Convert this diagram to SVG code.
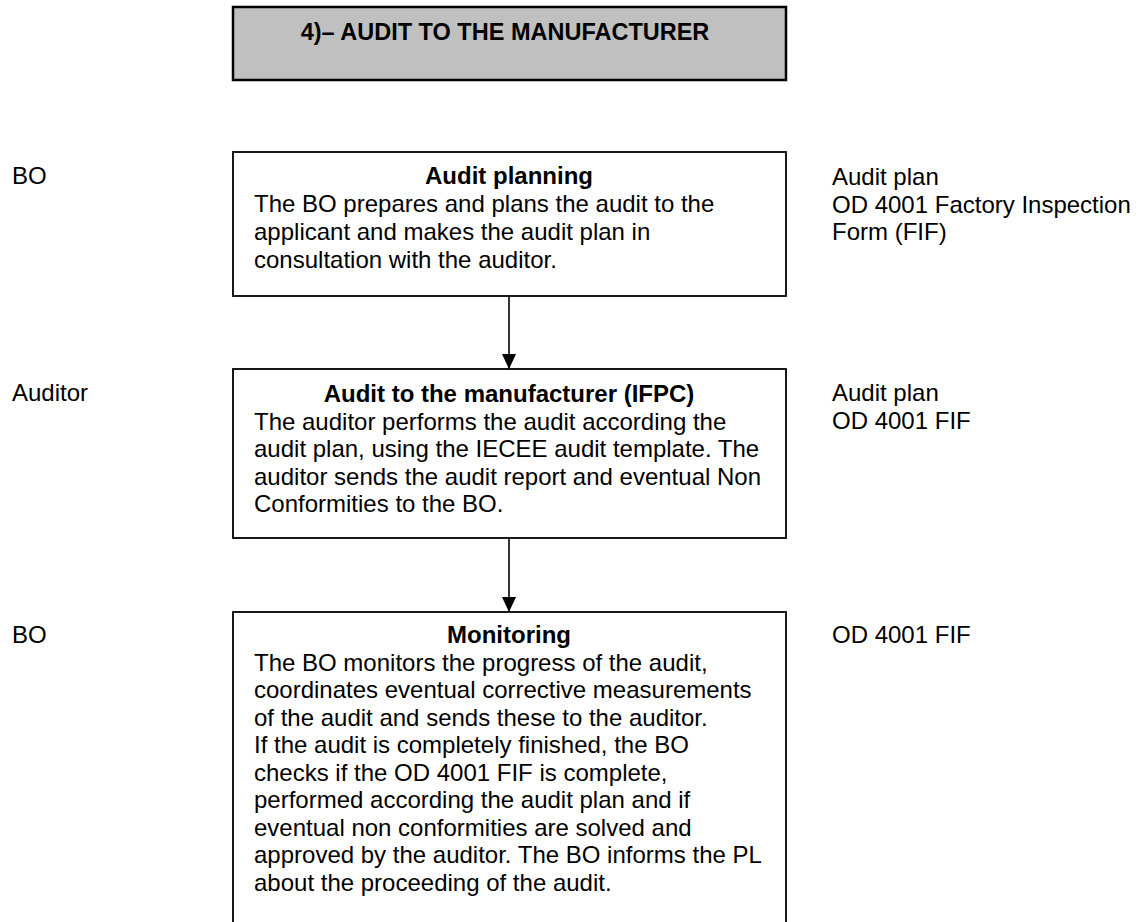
<svg xmlns="http://www.w3.org/2000/svg" width="1140" height="922" viewBox="0 0 1140 922">
<defs>
<style>
text{font-family:"Liberation Sans",Arial,sans-serif;font-size:24px;fill:#000}
.b{font-weight:bold}
.c{text-anchor:middle}
.box{fill:#fff;stroke:#000;stroke-width:1.8}
.conn{stroke:#000;stroke-width:1.6;fill:none}
</style>
<marker id="ah" markerWidth="15" markerHeight="14" refX="15" refY="7" orient="auto" markerUnits="userSpaceOnUse" viewBox="0 0 15 14">
<path d="M0,0 L15,7 L0,14 Z" fill="#000"/>
</marker>
</defs>
<rect width="1140" height="922" fill="#fff"/>
<g id="title">
<rect x="233" y="7" width="553" height="73" fill="#c0c0c0" stroke="#000" stroke-width="2.5"/>
<text x="505" y="40" class="b c" style="font-size:23.5px">4)– AUDIT TO THE MANUFACTURER</text>
</g>
<g id="lane-labels">
<text x="12" y="184">BO</text>
<text x="12" y="401">Auditor</text>
<text x="12" y="643">BO</text>
</g>
<g id="node-planning">
<rect class="box" x="233" y="152" width="553" height="144"/>
<text x="509" y="184" class="b c">Audit planning</text>
<text x="254" y="212">The BO prepares and plans the audit to the</text>
<text x="254" y="240">applicant and makes the audit plan in</text>
<text x="254" y="268">consultation with the auditor.</text>
</g>
<g id="node-audit">
<rect class="box" x="233" y="369" width="553" height="169"/>
<text x="509" y="402" class="b c">Audit to the manufacturer (IFPC)</text>
<text x="254" y="429.5">The auditor performs the audit according the</text>
<text x="254" y="457">audit plan, using the IECEE audit template. The</text>
<text x="254" y="484.5">auditor sends the audit report and eventual Non</text>
<text x="254" y="512">Conformities to the BO.</text>
</g>
<g id="node-monitoring">
<rect class="box" x="233" y="612" width="553" height="330"/>
<text x="509" y="643" class="b c">Monitoring</text>
<text x="254" y="670.5">The BO monitors the progress of the audit,</text>
<text x="254" y="698">coordinates eventual corrective measurements</text>
<text x="254" y="725.5">of the audit and sends these to the auditor.</text>
<text x="254" y="753">If the audit is completely finished, the BO</text>
<text x="254" y="780.5">checks if the OD 4001 FIF is complete,</text>
<text x="254" y="808">performed according the audit plan and if</text>
<text x="254" y="835.5">eventual non conformities are solved and</text>
<text x="254" y="863">approved by the auditor. The BO informs the PL</text>
<text x="254" y="890.5">about the proceeding of the audit.</text>
</g>
<g id="documents">
<text x="832" y="185">Audit plan</text>
<text x="832" y="212.5">OD 4001 Factory Inspection</text>
<text x="832" y="240">Form (FIF)</text>
<text x="832" y="401">Audit plan</text>
<text x="832" y="429">OD 4001 FIF</text>
<text x="832" y="643">OD 4001 FIF</text>
</g>
<g id="connectors">
<line class="conn" x1="509" y1="297" x2="509" y2="369" marker-end="url(#ah)"/>
<line class="conn" x1="509" y1="539" x2="509" y2="612" marker-end="url(#ah)"/>
</g>
</svg>
